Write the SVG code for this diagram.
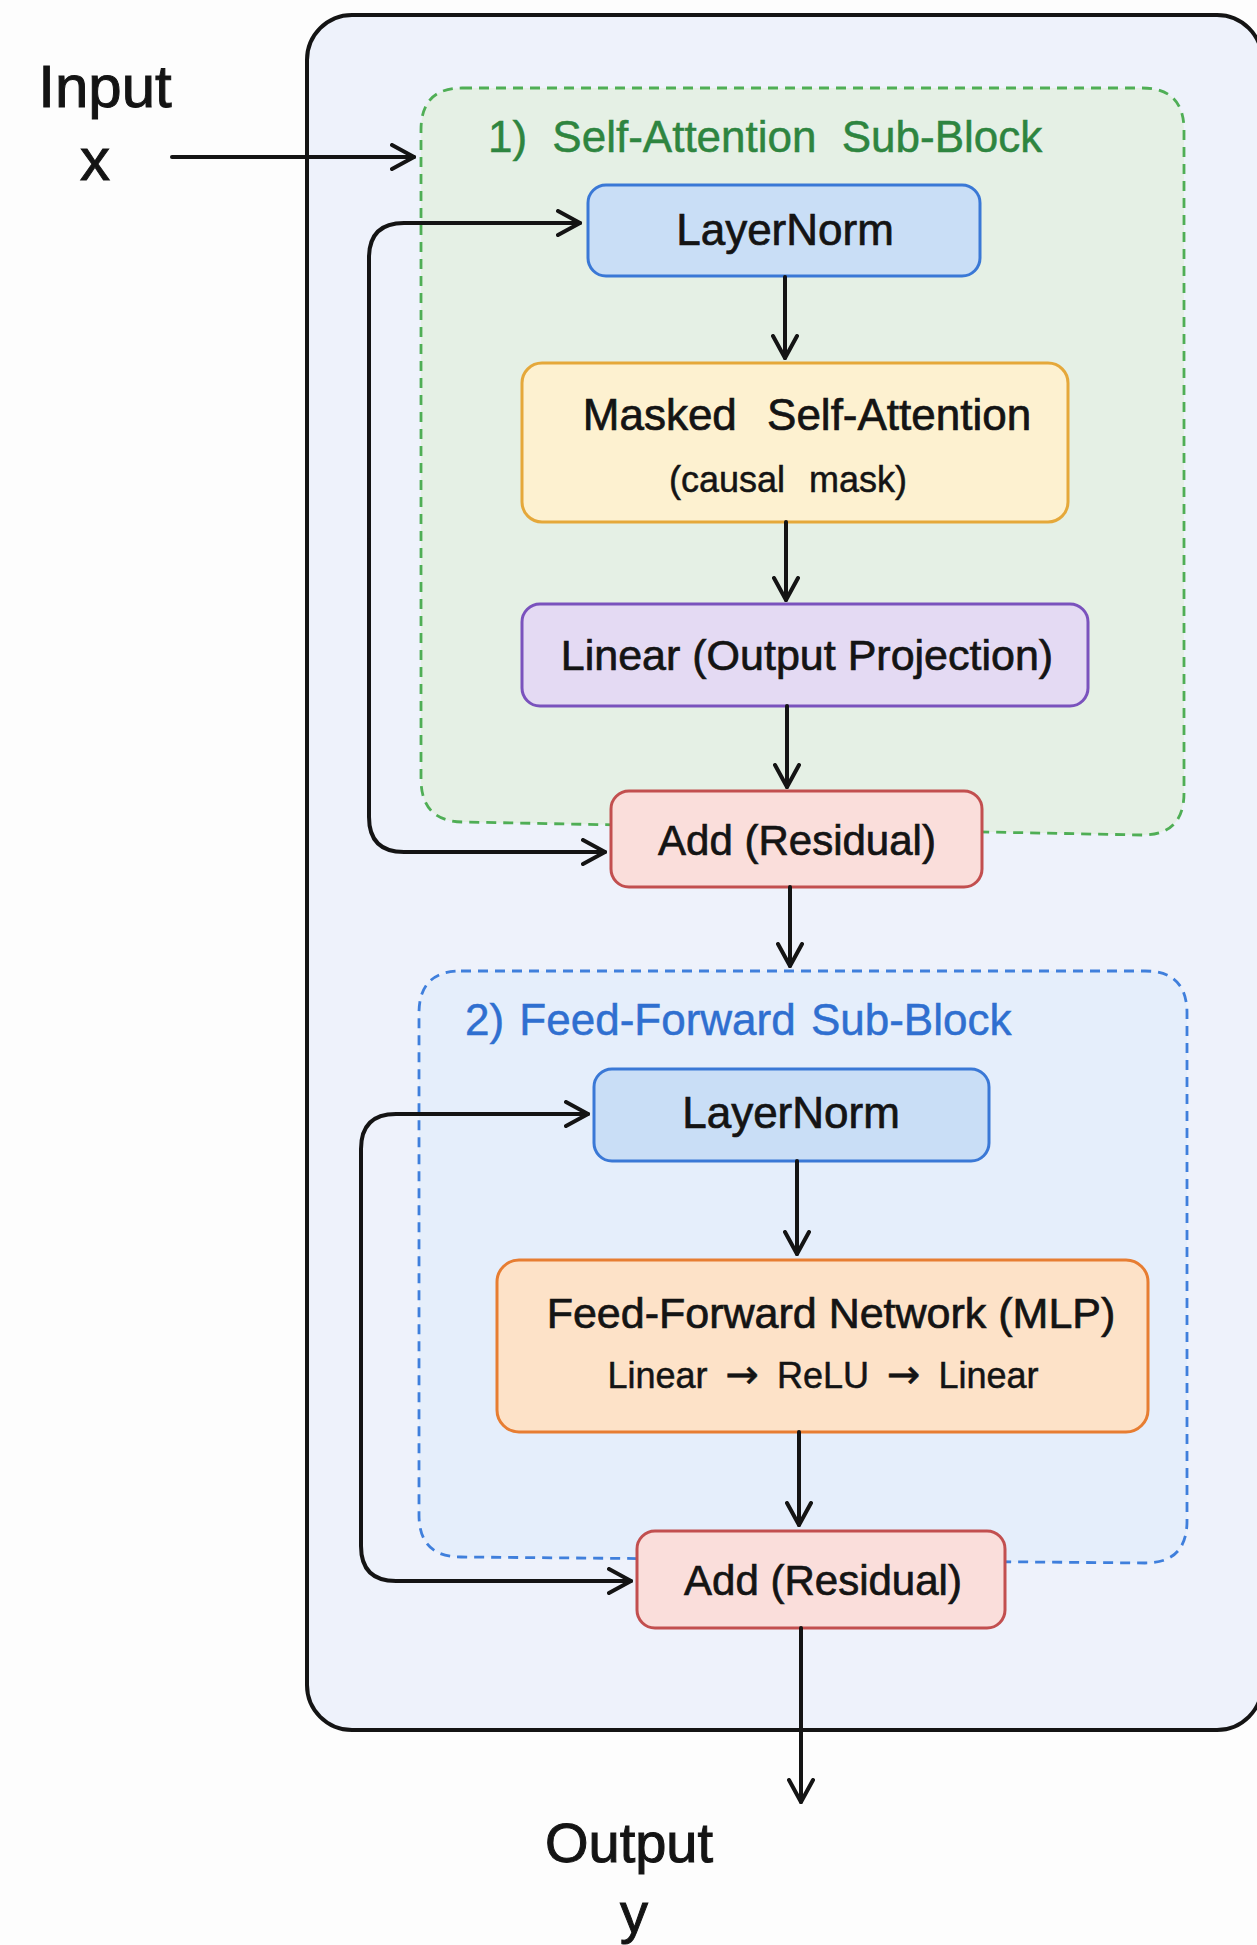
<svg xmlns="http://www.w3.org/2000/svg" width="1257" height="1945" viewBox="0 0 1257 1945">
  <style>
    text { font-family: "Liberation Sans", "DejaVu Sans", Arial, sans-serif; fill: #141414; stroke: #141414; stroke-width: 0.7; }
    .io { font-size: 60px; text-anchor: middle; stroke-width: 1; }
    .out { font-size: 56px; text-anchor: middle; stroke-width: 1; }
    .lbl { font-size: 44px; text-anchor: middle; }
    .sub { font-size: 36px; text-anchor: middle; stroke-width: 0.5; }
    .title { font-size: 44px; stroke-width: 0.5; }
    .arr { font-family: "DejaVu Sans", sans-serif; font-size: 40px; }
    .node rect { stroke-width: 3; }
    .conn path { fill: none; stroke: #141414; stroke-width: 4; stroke-linecap: round; stroke-linejoin: round; marker-end: url(#arrow); }
    .grp { stroke-width: 2.8; stroke-dasharray: 10 7; }
  </style>
  <defs>
    <marker id="arrow" markerUnits="userSpaceOnUse" viewBox="0 0 28 28" markerWidth="28" markerHeight="28" refX="24" refY="14" orient="auto">
      <path d="M2,2 L24,14 L2,26" fill="none" stroke="#141414" stroke-width="4" stroke-linecap="round" stroke-linejoin="round"/>
    </marker>
  </defs>

  <rect x="0" y="0" width="1257" height="1945" fill="#fdfdfd"/>

  <g id="block">
    <rect x="307" y="15" width="955" height="1715" rx="45" fill="#eef2fb" stroke="#141414" stroke-width="4"/>
  </g>

  <g id="self-attention-group">
    <path class="grp" d="M 462,88 H 1142 Q 1184,88 1184,130 V 793 Q 1184,835 1142,835 L 464,822 Q 421,822 421,779 V 130 Q 421,88 462,88 Z" fill="#e5f0e5" stroke="#4fae55"/>
    <text class="title" x="488" y="152" style="fill:#2e8540;stroke:#2e8540" word-spacing="13">1) Self-Attention Sub-Block</text>
  </g>

  <g id="feed-forward-group">
    <path class="grp" d="M 461,971 H 1145 Q 1187,971 1187,1013 V 1521 Q 1187,1563 1145,1563 L 461,1557 Q 419,1557 419,1515 V 1013 Q 419,971 461,971 Z" fill="#e5eefb" stroke="#3f7fdc"/>
    <text class="title" x="465" y="1035" style="fill:#2f6fd0;stroke:#2f6fd0" word-spacing="3">2) Feed-Forward Sub-Block</text>
  </g>

  <g id="input">
    <text class="io" x="105" y="107">Input</text>
    <text class="io" x="95" y="180">x</text>
  </g>

  <g id="layernorm1" class="node">
    <rect x="588" y="185" width="392" height="91" rx="18" fill="#c9def6" stroke="#3a78d6"/>
    <text class="lbl" x="785" y="245">LayerNorm</text>
  </g>

  <g id="masked-self-attention" class="node">
    <rect x="522" y="363" width="546" height="159" rx="20" fill="#fdf1d0" stroke="#e5a83a"/>
    <text class="lbl" x="807" y="430" word-spacing="18">Masked Self-Attention</text>
    <text class="sub" x="788" y="492" word-spacing="14">(causal mask)</text>
  </g>

  <g id="linear-projection" class="node">
    <rect x="522" y="604" width="566" height="102" rx="18" fill="#e4daf3" stroke="#7a52bd"/>
    <text class="lbl" x="807" y="670" style="font-size:43px">Linear (Output Projection)</text>
  </g>

  <g id="add1" class="node">
    <rect x="611" y="791" width="371" height="96" rx="18" fill="#fadedb" stroke="#c24f4f"/>
    <text class="lbl" x="797" y="855" style="font-size:42px">Add (Residual)</text>
  </g>

  <g id="layernorm2" class="node">
    <rect x="594" y="1069" width="395" height="92" rx="18" fill="#c9def6" stroke="#3a78d6"/>
    <text class="lbl" x="791" y="1128">LayerNorm</text>
  </g>

  <g id="ffn" class="node">
    <rect x="497" y="1260" width="651" height="172" rx="22" fill="#fde2c8" stroke="#e77d32"/>
    <text class="lbl" x="831" y="1328" style="font-size:43px">Feed-Forward Network (MLP)</text>
    <text class="sub" x="823" y="1388" word-spacing="8">Linear <tspan class="arr">→</tspan> ReLU <tspan class="arr">→</tspan> Linear</text>
  </g>

  <g id="add2" class="node">
    <rect x="637" y="1531" width="368" height="97" rx="18" fill="#fadedb" stroke="#c24f4f"/>
    <text class="lbl" x="823" y="1595" style="font-size:42px">Add (Residual)</text>
  </g>

  <g id="output">
    <text class="out" x="629" y="1862">Output</text>
    <text class="out" x="634" y="1932">y</text>
  </g>

  <g id="connectors" class="conn">
    <path d="M 172,157 H 414"/>
    <path d="M 785,277 V 358"/>
    <path d="M 786,522 V 600"/>
    <path d="M 787,706 V 787"/>
    <path d="M 790,887 V 966"/>
    <path d="M 797,1161 V 1254"/>
    <path d="M 799,1432 V 1525"/>
    <path d="M 801,1628 V 1802"/>
    <path d="M 369,540 V 258 Q 369,223 404,223 H 580"/>
    <path d="M 369,540 V 817 Q 369,852 404,852 H 605"/>
    <path d="M 361,1350 V 1149 Q 361,1114 396,1114 H 588"/>
    <path d="M 361,1350 V 1546 Q 361,1581 396,1581 H 631"/>
  </g>
</svg>
